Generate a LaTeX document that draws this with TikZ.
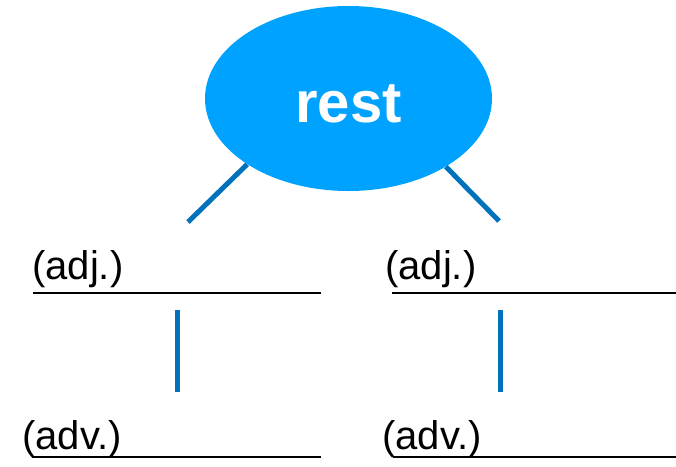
\documentclass[tikz,border=0pt]{standalone}
\usepackage{fontspec}
\setmainfont{Liberation Sans}
\usetikzlibrary{shapes.geometric}
\definecolor{restblue}{RGB}{0,162,255}
\definecolor{linkblue}{RGB}{0,114,188}
\pgfdeclarelayer{back}
\pgfsetlayers{back,main}
\begin{document}
\begin{tikzpicture}
			[x=1pt, y={(0pt,-1pt)},
			word/.style={anchor=base west, inner sep=0pt, font=\fontsize{40}{44}\selectfont},
			link/.style={draw=linkblue, line width=5pt},
			blank/.style={draw=black, line width=2pt}]
			\useasboundingbox (0,0) rectangle (676,466);
			\node[ellipse, fill=restblue, minimum width=287pt, minimum height=185pt, inner sep=0pt,
				text height=47pt, text depth=0pt,
				text=white, font=\fontsize{58}{60}\selectfont\bfseries] (r) at (348.5,98.5) {rest};
			\node[word] (a) at (32,279.5) {(adj.)};
			\node[word] (b) at (385,279.5) {(adj.)};
			\node[word] (c) at (22,449) {(adv.)};
			\node[word] (d) at (382,449) {(adv.)};
			\coordinate (p) at (188,222);
			\coordinate (q) at (499,221);
			\coordinate (a1) at (33,292.5);
			\coordinate (a2) at (320.5,292.5);
			\coordinate (b1) at (392,292.5);
			\coordinate (b2) at (676,292.5);
			\coordinate (c1) at (32,456.5);
			\coordinate (c2) at (320.5,456.5);
			\coordinate (d1) at (393,456.5);
			\coordinate (d2) at (676,456.5);
			\coordinate (m1) at (177.5,310);
			\coordinate (m2) at (177.5,392);
			\coordinate (n1) at (500.5,310);
			\coordinate (n2) at (500.5,392);
			\begin{pgfonlayer}{back}
			\draw[link] (r.-147) -- (p);
			\draw[link] (r.-35) -- (q);
			\end{pgfonlayer}
			\draw[blank] (a1) -- (a2);
			\draw[blank] (b1) -- (b2);
			\draw[blank] (c1) -- (c2);
			\draw[blank] (d1) -- (d2);
			\draw[link] (m1) -- (m2);
			\draw[link] (n1) -- (n2);
			\end{tikzpicture}
\end{document}
